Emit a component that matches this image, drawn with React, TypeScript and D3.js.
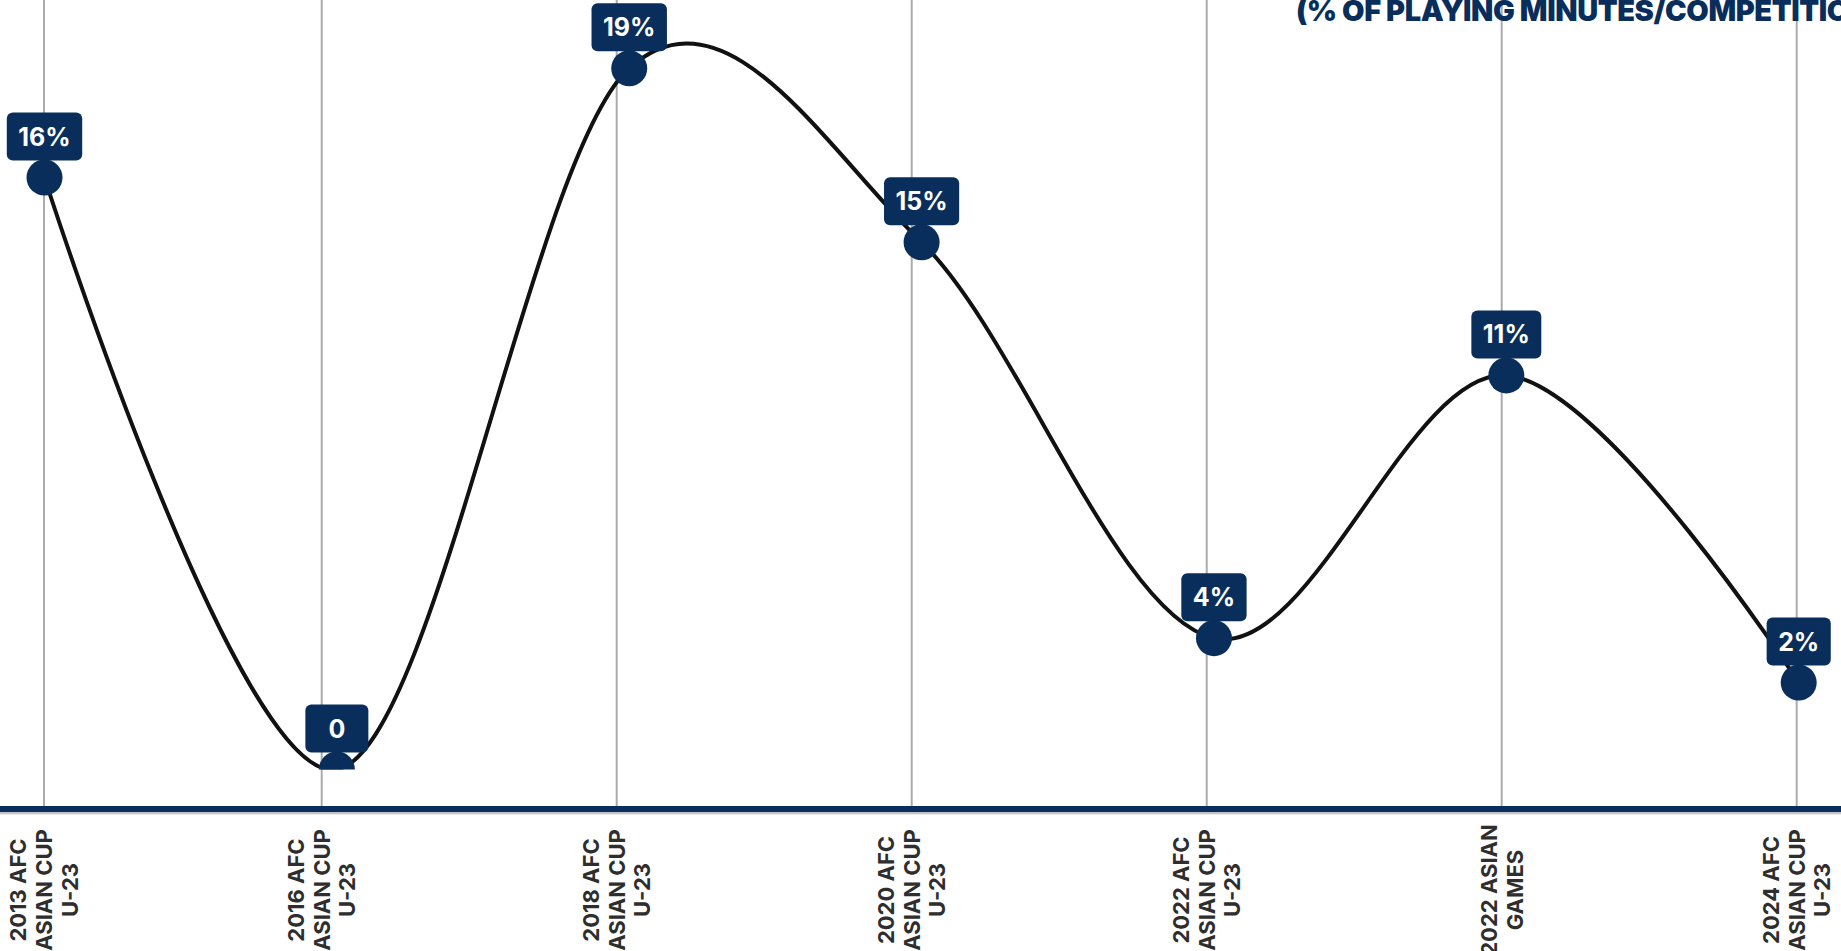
import React from "react";
import * as d3 from "d3";

const categories: string[][] = [
  ["2013 AFC", "ASIAN CUP", "U-23"],
  ["2016 AFC", "ASIAN CUP", "U-23"],
  ["2018 AFC", "ASIAN CUP", "U-23"],
  ["2020 AFC", "ASIAN CUP", "U-23"],
  ["2022 AFC", "ASIAN CUP", "U-23"],
  ["2022 ASIAN", "GAMES"],
  ["2024 AFC", "ASIAN CUP", "U-23"],
];
const values: number[] = [16, 0, 18.95, 14.25, 3.55, 10.65, 2.35];
const valueLabels: string[] = ["16%", "0", "19%", "15%", "4%", "11%", "2%"];
const titleText = "(% OF PLAYING MINUTES/COMPETITION)";

const W = 1841;
const H = 951;
const NAVY = "#0a2e5b";
const FONT = "Inter, 'DejaVu Sans', sans-serif";

let measureCtx: CanvasRenderingContext2D | null = null;
function textWidth(t: string, font: string): number {
  if (!measureCtx) {
    const c = document.createElement("canvas");
    measureCtx = c.getContext("2d");
  }
  if (!measureCtx) return t.length * 17;
  measureCtx.font = font;
  return measureCtx.measureText(t).width;
}

export default function App() {
  const idx = categories.map((_, i) => i);
  const xMark = d3.scalePoint<number>().domain(idx).range([44.5, 1798.7]);
  const xGrid = d3.scaleLinear().domain([0, 1, 6]).range([44, 321.7, 1796.7]);
  const y = d3.scaleLinear().domain([0, 20]).range([769.5, 29.5]);
  const axisY = 806;
  const clipBottom = y(0);

  const line = d3
    .line<number>()
    .x((i) => xMark(i) as number)
    .y((i) => y(values[i]))
    .curve(d3.curveCardinal.tension(0));

  const lineH = 25.8;
  const labelCenterY = 890;
  const labelFont = 22;

  return (
    <svg
      width={W}
      height={H}
      style={{ position: "absolute", left: 0, top: 0, display: "block", background: "#fff" }}
    >
      <defs>
        <clipPath id="plotClip">
          <rect x={0} y={-50} width={W} height={clipBottom + 50} />
        </clipPath>
      </defs>
      <rect x={0} y={0} width={W} height={H} fill="#fff" />

      {/* gridlines */}
      {idx.map((i) => (
        <line
          key={"g" + i}
          x1={xGrid(i)}
          x2={xGrid(i)}
          y1={0}
          y2={axisY}
          stroke="#ababab"
          strokeWidth={2}
        />
      ))}

      {/* title */}
      <text
        x={1296}
        y={20.5}
        fill={NAVY}
        fontFamily={FONT}
        fontWeight={900}
        fontSize={29}
        letterSpacing={-0.4}
      >
        {titleText}
      </text>

      {/* axis */}
      <rect x={0} y={axisY} width={W} height={6.3} fill={NAVY} />
      <rect x={0} y={axisY + 6.3} width={W} height={2} fill="#c4c4c4" />

      {/* curve and markers */}
      <g clipPath="url(#plotClip)">
        <path d={line(idx) || ""} fill="none" stroke="#111" strokeWidth={4} />
        {idx.map((i) => {
          const cx = xMark(i) as number;
          const cy = y(values[i]);
          const font = `700 25px Inter`;
          const tw = textWidth(valueLabels[i], font);
          const bw = Math.max(63, tw + 23);
          const bh = 48;
          const bcy = cy - 41;
          return (
            <g key={"m" + i}>
              <circle cx={cx} cy={cy} r={18} fill={NAVY} />
              <rect x={cx - bw / 2} y={bcy - bh / 2} width={bw} height={bh} rx={6} fill={NAVY} />
              <text
                x={cx}
                y={bcy + 9}
                textAnchor="middle"
                fill="#fff"
                fontFamily={FONT}
                fontWeight={700}
                fontSize={25}
              >
                {valueLabels[i]}
              </text>
            </g>
          );
        })}
      </g>

      {/* category labels */}
      {categories.map((lines, i) => {
        const gx = xGrid(i);
        return (
          <g key={"l" + i} transform={`translate(${gx},${labelCenterY}) rotate(-90)`}>
            {lines.map((t, k) => (
              <text
                key={k}
                x={0}
                y={(k - (lines.length - 1) / 2) * lineH + 8}
                textAnchor="middle"
                fill="#2e2e2e"
                fontFamily={FONT}
                fontWeight={700}
                fontSize={labelFont}
              >
                {t}
              </text>
            ))}
          </g>
        );
      })}
    </svg>
  );
}
